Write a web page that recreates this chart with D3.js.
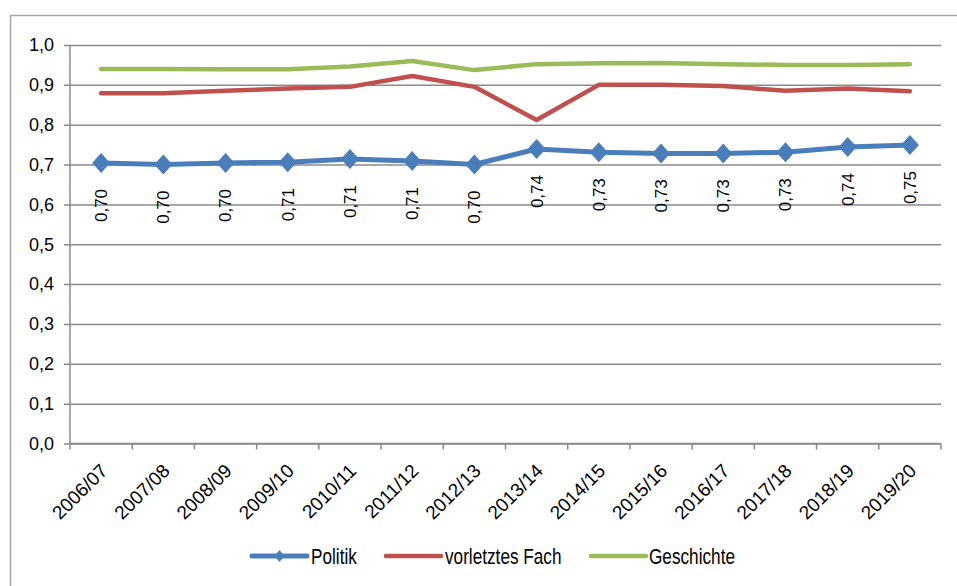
<!DOCTYPE html>
<html>
<head>
<meta charset="utf-8">
<script src="https://cdn.jsdelivr.net/npm/d3@7"></script>
<style>
  html, body { margin: 0; padding: 0; background: #fff; }
  svg { display: block; }
  text { font-family: "Liberation Sans", Arial, sans-serif; fill: #000; }
</style>
</head>
<body>
<svg id="chart" width="957" height="586"></svg>
<script>
const categories = ["2006/07","2007/08","2008/09","2009/10","2010/11","2011/12","2012/13","2013/14","2014/15","2015/16","2016/17","2017/18","2018/19","2019/20"];
const politik = [0.704,0.700,0.704,0.706,0.714,0.709,0.700,0.739,0.731,0.728,0.728,0.731,0.744,0.749];
const politikLabels = ["0,70","0,70","0,70","0,71","0,71","0,71","0,70","0,74","0,73","0,73","0,73","0,73","0,74","0,75"];
const vorletztes = [0.879,0.879,0.885,0.891,0.895,0.922,0.895,0.812,0.900,0.900,0.897,0.885,0.891,0.884];
const geschichte = [0.940,0.940,0.939,0.939,0.946,0.960,0.937,0.952,0.954,0.955,0.952,0.950,0.950,0.952];
const yTicks = [0,0.1,0.2,0.3,0.4,0.5,0.6,0.7,0.8,0.9,1.0];
const seriesNames = ["Politik","vorletztes Fach","Geschichte"];
const colors = ["#4A7EBB","#C0504D","#9BBB59"];

(function(){
const svg = d3.select("#chart");
const pLeft = 70, pRight = 941, pTop = 45, pBottom = 443.5;
const gridColor = "#8a8a8a";

// outer frame
svg.append("rect").attr("x",10.5).attr("y",15.5).attr("width",1000).attr("height",1000)
  .attr("fill","none").attr("stroke","#a6a6a6").attr("stroke-width",1.5);

const x = d3.scaleBand().domain(categories).range([pLeft,pRight]).padding(0);
const cx = c => x(c) + x.bandwidth()/2;
const y = d3.scaleLinear().domain([0,1]).range([pBottom, pTop]);
const fmt = v => d3.format(".1f")(v).replace(".", ",");

// y axis with gridlines
const yAxis = svg.append("g").attr("transform",`translate(${pLeft},0)`)
  .call(d3.axisLeft(y).tickValues(yTicks).tickSize(-(pRight-pLeft)).tickPadding(16).tickFormat(fmt));
yAxis.select(".domain").remove();
yAxis.selectAll(".tick line").attr("stroke",gridColor).attr("stroke-width",1.5).attr("x1",-6);
yAxis.selectAll(".tick text").attr("font-size",18).attr("font-family","Liberation Sans, Arial, sans-serif").attr("fill","#000");

// y axis line
svg.append("line").attr("x1",pLeft).attr("x2",pLeft).attr("y1",pTop).attr("y2",pBottom)
  .attr("stroke",gridColor).attr("stroke-width",1.5);

// x axis
const xAxis = svg.append("g").attr("transform",`translate(0,${pBottom})`)
  .call(d3.axisBottom(x).tickSize(0).tickFormat(""));
xAxis.select(".domain").attr("stroke",gridColor).attr("stroke-width",1.5).attr("d",`M${pLeft},0H${pRight}`);
// boundary ticks
const bounds = categories.map(c => x(c)).concat([pRight]);
svg.append("g").selectAll("line").data(bounds).join("line")
  .attr("x1",d=>d).attr("x2",d=>d).attr("y1",pBottom).attr("y2",pBottom+6)
  .attr("stroke",gridColor).attr("stroke-width",1.5);
// x labels
svg.append("g").selectAll("text").data(categories).join("text")
  .attr("transform",d=>`translate(${cx(d)-2},${pBottom+19}) rotate(-45)`)
  .attr("text-anchor","end").attr("dy","0.71em").attr("font-size",19)
  .text(d=>d);

// lines
const line = d3.line().x((d,i)=>cx(categories[i])).y(d=>y(d));
const data = [politik, vorletztes, geschichte];
[2,1,0].forEach(k => {
  svg.append("path").datum(data[k]).attr("d",line)
    .attr("fill","none").attr("stroke",colors[k])
    .attr("stroke-width", k===0 ? 5 : 4.5)
    .attr("stroke-linejoin","round").attr("stroke-linecap","round");
});

// diamond markers
const diamond = (w,h) => `M0,${-h}L${w},0L0,${h}L${-w},0Z`;
svg.append("g").selectAll("path").data(politik).join("path")
  .attr("transform",(d,i)=>`translate(${cx(categories[i])},${y(d)})`)
  .attr("d",diamond(9,10)).attr("fill",colors[0]);

// data labels
svg.append("g").selectAll("text").data(politik).join("text")
  .attr("transform",(d,i)=>`translate(${cx(categories[i])},${y(d)+26}) rotate(-90)`)
  .attr("text-anchor","end").attr("dy","0.35em").attr("font-size",17)
  .text((d,i)=>politikLabels[i]);

// legend
const legendY = 556;
const legendItems = [
  {x1:252, x2:307, tx:311},
  {x1:386, x2:441, tx:445},
  {x1:591, x2:646, tx:649}
];
legendItems.forEach((it,k) => {
  svg.append("line").attr("x1",it.x1).attr("x2",it.x2).attr("y1",legendY).attr("y2",legendY)
    .attr("stroke",colors[k]).attr("stroke-width",k===0?5:4.5).attr("stroke-linecap","round");
  if (k===0) {
    svg.append("path").attr("transform",`translate(${(it.x1+it.x2)/2},${legendY})`)
      .attr("d",diamond(5,6)).attr("fill",colors[0]);
  }
  svg.append("text").attr("transform",`translate(${it.tx},${legendY}) scale(0.8,1)`)
    .attr("dy","0.35em").attr("font-size",21.5).text(seriesNames[k]);
});
})();
</script>
</body>
</html>
